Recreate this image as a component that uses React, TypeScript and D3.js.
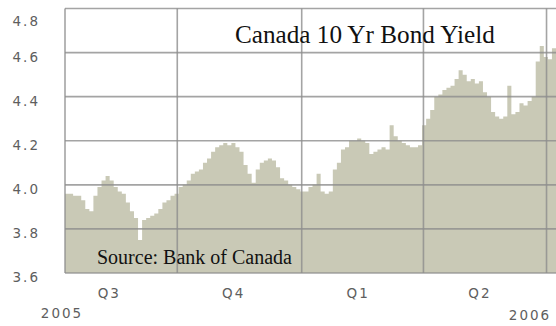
import React from "react";
import * as d3 from "d3";

const startDate = new Date(2005, 6, 10);
const endDate = new Date(2006, 6, 8);
const stepDays = 3;
const yields = [
  3.96, 3.96, 3.95, 3.95, 3.93, 3.89, 3.88, 3.95, 3.99, 4.02,
  4.04, 4.02, 3.99, 3.97, 3.96, 3.92, 3.88, 3.85, 3.75, 3.84,
  3.85, 3.86, 3.87, 3.89, 3.92, 3.93, 3.95, 3.96, 3.99, 4.0,
  4.02, 4.05, 4.06, 4.07, 4.1, 4.12, 4.15, 4.17, 4.18, 4.19,
  4.18, 4.19, 4.17, 4.15, 4.09, 4.05, 4.01, 4.07, 4.1, 4.11,
  4.12, 4.11, 4.08, 4.03, 4.02, 4.0, 3.99, 3.98, 3.97, 3.97,
  3.99, 4.0, 4.05, 3.97, 3.96, 3.97, 4.07, 4.1, 4.16, 4.17,
  4.2, 4.2, 4.21, 4.2, 4.19, 4.14, 4.15, 4.16, 4.17, 4.16,
  4.27, 4.22, 4.2, 4.19, 4.18, 4.17, 4.17, 4.18, 4.27, 4.3,
  4.34, 4.4, 4.41, 4.43, 4.44, 4.45, 4.48, 4.52, 4.5, 4.47,
  4.48, 4.46, 4.47, 4.42, 4.4, 4.33, 4.31, 4.3, 4.31, 4.45,
  4.32, 4.33, 4.37, 4.36, 4.38, 4.4, 4.56, 4.63, 4.58, 4.57,
  4.62, 4.62,
];
const yTicks = [3.6, 3.8, 4.0, 4.2, 4.4, 4.6, 4.8];
const quarterStarts = [
  new Date(2005, 9, 1),
  new Date(2006, 0, 1),
  new Date(2006, 3, 1),
  new Date(2006, 6, 1),
];
const quarterLabels = ["Q3", "Q4", "Q1", "Q2"];
const quarterLabelStarts = [
  new Date(2005, 6, 1),
  new Date(2005, 9, 1),
  new Date(2006, 0, 1),
  new Date(2006, 3, 1),
];
const yearLabels = ["2005", "2006"];
const title = "Canada 10 Yr Bond Yield";
const source = "Source: Bank of Canada";

export default function App() {
  const W = 556, H = 326;
  const x = d3.scaleTime().domain([startDate, endDate]).range([65, 556]);
  const y = d3.scaleLinear().domain([3.6, 4.8]).range([273, 8.5]);
  const data = yields.map((v, i) => ({ date: d3.timeDay.offset(startDate, i * stepDays), v }));
  const area = d3
    .area<{ date: Date; v: number }>()
    .x((d) => x(d.date))
    .y0(y(3.6))
    .y1((d) => y(d.v))
    .curve(d3.curveStepAfter);
  const gridColor = "#8e8e8e";
  const labelFont = "'DejaVu Sans', Verdana, sans-serif";
  const labelProps = { fontFamily: labelFont, fontSize: 13.5, letterSpacing: 2, fill: "#5e5e5e" };
  return (
    <svg width={W} height={H} style={{ position: "absolute", left: 0, top: 0, background: "#fff" }}>
      <path d={area(data) || ""} fill="#c9c9b6" />
      {yTicks.map((t) => (
        <line key={"h" + t} x1={65} x2={W} y1={y(t)} y2={y(t)} stroke={gridColor} strokeWidth={1.6} opacity={0.8} />
      ))}
      <line x1={x(startDate)} x2={x(startDate)} y1={y(4.8)} y2={y(3.6)} stroke={gridColor} strokeWidth={1.6} opacity={0.8} />
      {quarterStarts.map((d, i) => (
        <line key={"v" + i} x1={x(d)} x2={x(d)} y1={y(4.8)} y2={y(3.6)} stroke={gridColor} strokeWidth={1.6} opacity={0.8} />
      ))}
      {yTicks.map((t) => (
        <text key={"t" + t} x={40} y={Math.max(y(t) + 4, 21) + 5} textAnchor="end" {...labelProps}>
          {t.toFixed(1)}
        </text>
      ))}
      {quarterLabels.map((q, i) => (
        <text key={q} x={x(d3.timeDay.offset(quarterLabelStarts[i], 41)) + 1} y={298} textAnchor="middle" {...labelProps}>
          {q}
        </text>
      ))}
      <text x={62} y={318} textAnchor="middle" {...labelProps}>
        {yearLabels[0]}
      </text>
      <text x={530} y={320} textAnchor="middle" {...labelProps}>
        {yearLabels[1]}
      </text>
      <text x={235} y={43} fontFamily="'Liberation Serif', 'Times New Roman', serif" fontSize={25.2} fill="#111">
        {title}
      </text>
      <text x={97} y={264} fontFamily="'Liberation Serif', 'Times New Roman', serif" fontSize={20} fill="#111">
        {source}
      </text>
    </svg>
  );
}
